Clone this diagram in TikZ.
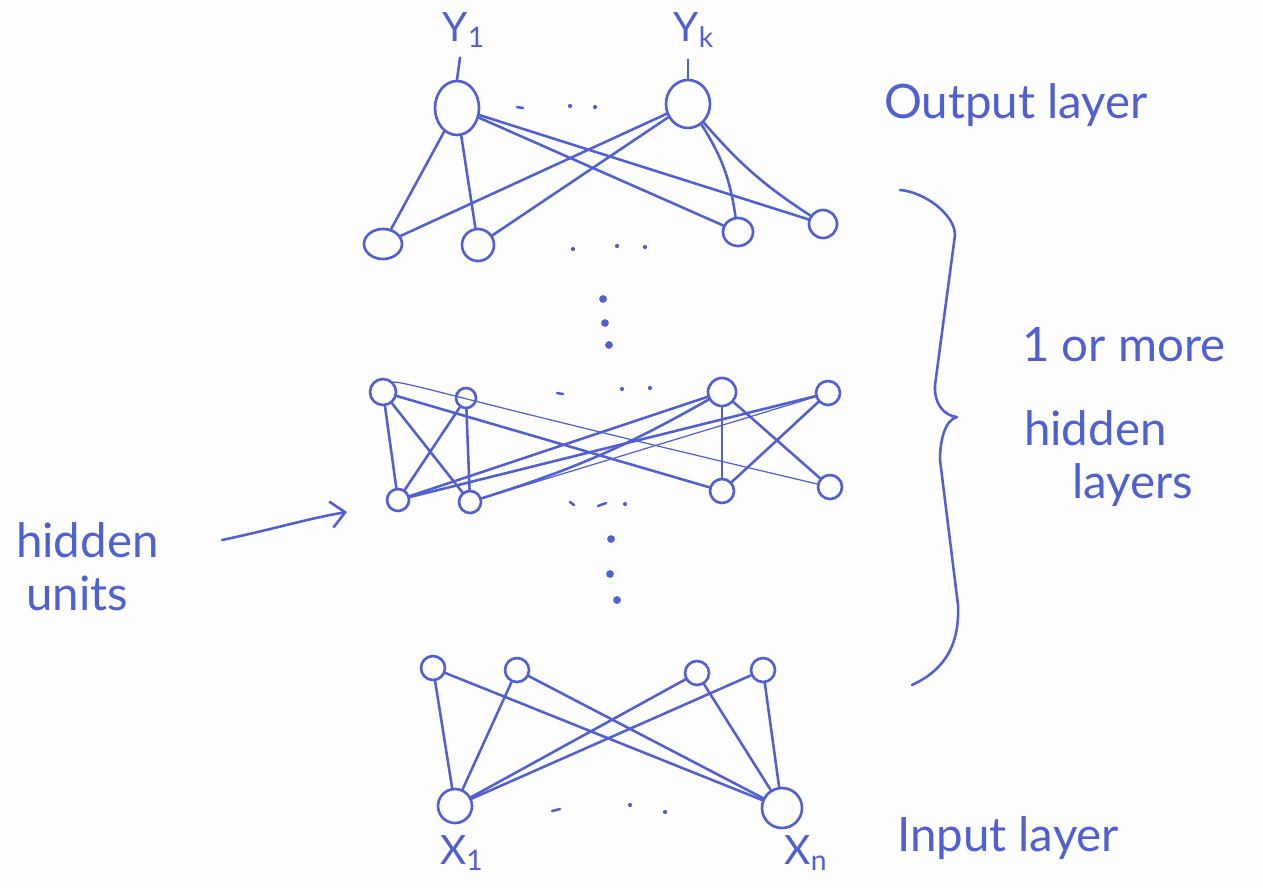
\documentclass[tikz,border=0pt]{standalone}
\usepackage{fontspec}
\newfontfamily\handfont{Lato}
\usetikzlibrary{shapes.geometric,arrows.meta}
\definecolor{ink}{RGB}{80,96,210}
\definecolor{paper}{RGB}{254,254,255}
\newcommand{\pxu}{0.02cm}
\tikzset{
  pen/.style={draw=ink, line width=1.45pt, line cap=round, line join=round},
  thinpen/.style={draw=ink, line width=0.7pt, line cap=round},
  nrn/.style 2 args={ellipse, draw=ink, line width=1.5pt, inner sep=0pt,
    minimum width=#1*\pxu, minimum height=#2*\pxu},
  hand/.style={text=ink, font=\handfont\fontsize{27}{32}\selectfont, inner sep=1pt},
  sublabel/.style={text=ink, font=\handfont\fontsize{23}{26}\selectfont, inner sep=2pt},
}
\begin{document}
\begin{tikzpicture}[x=0.02cm, y=-0.02cm]
  % canvas
  \fill[paper] (0,0) rectangle (1263,889);
  \useasboundingbox (0,0) rectangle (1263,889);

  % ---- output layer ----
  \node[nrn={44}{54}] (y1) at (457,108) {};
  \node[nrn={44}{48}] (yk) at (688,104) {};
  \node[sublabel] (ly1) at (464,30) {Y\textsubscript{1}};
  \node[sublabel] (lyk) at (694,30) {Y\textsubscript{k}};
  \draw[pen] (ly1.south) ++(-4,6) coordinate (ly1t) -- (y1.north);
  \draw[pen] (lyk.south) ++(-6,8) coordinate (lykt) -- (yk.north);

  % first hidden row below the output
  \node[nrn={38}{30}] (a1) at (383,244) {};
  \node[nrn={32}{32}] (a2) at (478,245) {};
  \node[nrn={30}{28}] (a3) at (738,232) {};
  \node[nrn={28}{28}] (a4) at (823,224) {};

  \draw[pen] (y1) -- (a1);
  \draw[pen] (y1) -- (a2);
  \draw[pen] (y1) -- (a3);
  \draw[pen] (y1) -- (a4);
  \draw[pen] (yk) -- (a1);
  \draw[pen] (yk) -- (a2);
  \draw[pen] (yk) to[bend left=12] (a3);
  \draw[pen] (yk) to[bend right=8] (a4);

  % ---- middle hidden layer ----
  \node[nrn={26}{26}] (b1) at (383,392) {};
  \node[nrn={20}{20}] (b2) at (466,398) {};
  \node[nrn={28}{28}] (b3) at (722,392) {};
  \node[nrn={24}{24}] (b4) at (828,393) {};
  \node[nrn={22}{22}] (c1) at (398,500) {};
  \node[nrn={22}{22}] (c2) at (470,502) {};
  \node[nrn={24}{24}] (c3) at (722,491) {};
  \node[nrn={24}{24}] (c4) at (830,487) {};

  \draw[pen] (b1) -- (c1);
  \draw[pen] (b1) -- (c2);
  \draw[pen] (b2) -- (c1);
  \draw[pen] (b2) -- (c2);
  \draw[pen] (b1) -- (c3);
  \draw[thinpen] (b1.north east) .. controls (420,385) and (440,395) .. (c4);
  \draw[pen] (b3) -- (c1);
  \draw[pen] (b3) to[bend left=6] (c2);
  \draw[pen] (b4) -- (c1);
  \draw[thinpen] (b4) -- (c2);
  \draw[pen] (b3) -- (c3);
  \draw[pen] (b3) -- (c4);
  \draw[pen] (b4) -- (c3);

  % ---- input side ----
  \node[nrn={24}{24}] (d1) at (433,668) {};
  \node[nrn={24}{24}] (d2) at (517,670) {};
  \node[nrn={24}{24}] (d3) at (697,673) {};
  \node[nrn={24}{24}] (d4) at (763,670) {};
  \node[nrn={34}{34}] (x1) at (455,806) {};
  \node[nrn={40}{40}] (xn) at (782,808) {};
  \node[sublabel] (lx1) at (462,853) {X\textsubscript{1}};
  \node[sublabel] (lxn) at (806,853) {X\textsubscript{n}};

  \foreach \d in {d1,d2,d3,d4}{
    \draw[pen] (\d) -- (x1);
    \draw[pen] (\d) -- (xn);
  }

  % ---- ellipsis marks ----
  \foreach \p in {(570,106),(595,107),(617,246),(645,247),(622,389),(650,388),
                  (625,504),(630,805),(665,812),(573,249)}
    \fill[ink] \p circle (1.2pt);
  \draw[pen] (517,107) -- (523,108);
  \draw[pen] (557,393) -- (563,394);
  \draw[pen] (570,502) -- (574,505);
  \draw[pen] (598,506) -- (606,503);
  \draw[pen] (552,811) -- (560,809);
  \foreach \p in {(603,299),(605,323),(609,345),(611,539),(610,574),(617,600)}
    \fill[ink] \p circle (2.2pt);

  % ---- brace over the hidden layers ----
  \draw[pen] (900,190) .. controls (925,192) and (955,215) .. (955,235)
    -- (935,385) .. controls (934,405) and (945,416) .. (957,417)
    .. controls (945,420) and (940,440) .. (940,460)
    -- (958,605) .. controls (960,650) and (940,672) .. (912,685);

  % ---- labels ----
  \node[hand, anchor=west] (outl) at (882,105) {Output layer};
  \node[hand, anchor=west] (inl) at (895,838) {Input layer};
  \node[hand, anchor=west] (hl1) at (1020,345) {1 or more};
  \node[hand, anchor=west] (hl2) at (1022,428) {hidden};
  \node[hand, anchor=west] (hl3) at (1070,485) {layers};
  \node[hand, anchor=west] (hu1) at (14,540) {hidden};
  \node[hand, anchor=west] (hu2) at (24,593) {units};

  \coordinate (arrs) at (222,540);
  \coordinate (arre) at (347,512);
  \draw[pen, -{Straight Barb[length=8pt,width=15pt,line width=1.45pt]}]
    (arrs) .. controls (270,530) and (310,518) .. (arre);
\end{tikzpicture}
\end{document}
